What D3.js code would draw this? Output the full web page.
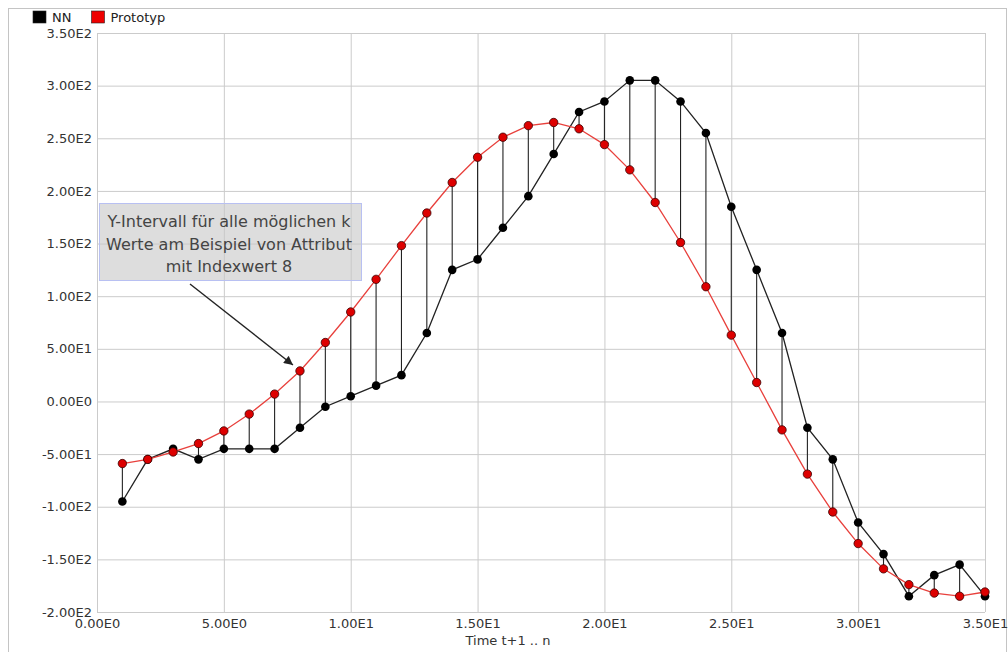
<!DOCTYPE html>
<html>
<head>
<meta charset="utf-8">
<script src="https://cdn.jsdelivr.net/npm/d3@7"></script>
<style>
  body { margin: 0; background: #fff; }
  text { font-family: "DejaVu Sans", sans-serif; }
</style>
</head>
<body>
<div id="chart-area"></div>
<script>
// values
var steps = [1, 2, 3, 4, 5, 6, 7, 8, 9, 10, 11, 12, 13, 14, 15, 16, 17, 18,
             19, 20, 21, 22, 23, 24, 25, 26, 27, 28, 29, 30, 31, 32, 33, 34, 35];
var nnValues = [-95, -55, -45, -55, -45, -45, -45, -25, -5, 5, 15, 25, 65, 125, 135, 165, 195, 235,
                275, 285, 305, 305, 285, 255, 185, 125, 65, -25, -55, -115, -145, -185, -165, -155, -185];
var protoValues = [-59, -55, -48, -40, -28, -12, 7, 29, 56, 85, 116, 148, 179, 208, 232, 251, 262, 265,
                   259, 244, 220, 189, 151, 109, 63, 18, -27, -69, -105, -135, -159, -174, -182, -185, -181];
var xTicks = [0, 5, 10, 15, 20, 25, 30, 35];
var yTicks = [-200, -150, -100, -50, 0, 50, 100, 150, 200, 250, 300, 350];
var seriesNames = ["NN", "Prototyp"];
var noteLines = ["Y-Intervall für alle möglichen k", "Werte am Beispiel von Attribut", "mit Indexwert 8"];
var noteStep = 8;

var margin = { left: 97, right: 23, top: 33, bottom: 40 };
var width = 1008 - margin.left - margin.right,
    height = 652 - margin.top - margin.bottom;

var svg = d3.select("#chart-area")
    .append("svg")
        .attr("width", 1008)
        .attr("height", 652);

// outer frame
svg.append("rect")
    .attr("x", 8.5).attr("y", 8.5)
    .attr("width", 998).attr("height", 660)
    .attr("fill", "none")
    .attr("stroke", "#c4c4c4");

var g = svg.append("g")
    .attr("transform", "translate(" + margin.left + ", " + margin.top + ")");

var x = d3.scaleLinear().domain([0, 35]).range([0, width]);
var y = d3.scaleLinear().domain([-200, 350]).range([height, 0]);

function sci(v) {
    if (v === 0) return "0.00E0";
    var e = Math.floor(Math.log10(Math.abs(v)));
    return (v / Math.pow(10, e)).toFixed(2) + "E" + e;
}

// grid
g.append("g")
    .attr("class", "x-grid")
    .attr("transform", "translate(0, " + height + ")")
    .call(d3.axisBottom(x).tickValues(xTicks).tickSize(-height).tickFormat(""));
g.append("g")
    .attr("class", "y-grid")
    .call(d3.axisLeft(y).tickValues(yTicks).tickSize(-width).tickFormat(""));
g.selectAll(".x-grid line, .y-grid line")
    .attr("stroke", "#cbcbcb")
    .attr("stroke-width", 1);
g.selectAll(".x-grid .domain, .y-grid .domain").remove();

// axes labels
var xAxis = g.append("g")
    .attr("transform", "translate(0, " + height + ")")
    .call(d3.axisBottom(x).tickValues(xTicks).tickSize(0).tickPadding(7).tickFormat(sci));
var yAxis = g.append("g")
    .call(d3.axisLeft(y).tickValues(yTicks).tickSize(0).tickPadding(5).tickFormat(sci));
xAxis.select(".domain").remove();
yAxis.select(".domain").remove();
svg.selectAll(".tick text")
    .attr("font-family", "DejaVu Sans")
    .attr("font-size", "13px")
    .attr("fill", "#333");

g.append("text")
    .attr("x", 411)
    .attr("y", height + 33)
    .attr("font-size", "13px")
    .attr("fill", "#333")
    .attr("text-anchor", "middle")
    .text("Time t+1 .. n");

// connectors between the two series
g.selectAll(".link")
    .data(steps)
    .enter()
    .append("line")
        .attr("class", "link")
        .attr("x1", function(d){ return x(d); })
        .attr("x2", function(d){ return x(d); })
        .attr("y1", function(d, i){ return y(protoValues[i]); })
        .attr("y2", function(d, i){ return y(nnValues[i]); })
        .attr("stroke", "#222")
        .attr("stroke-width", 1.1);

var line = d3.line()
    .x(function(d){ return x(d[0]); })
    .y(function(d){ return y(d[1]); });

var nnData = steps.map(function(d, i){ return [d, nnValues[i]]; });
var protoData = steps.map(function(d, i){ return [d, protoValues[i]]; });

g.append("path")
    .datum(nnData)
    .attr("d", line)
    .attr("fill", "none")
    .attr("stroke", "#222")
    .attr("stroke-width", 1.3);

g.append("path")
    .datum(protoData)
    .attr("d", line)
    .attr("fill", "none")
    .attr("stroke", "#e8403c")
    .attr("stroke-width", 1.3);

g.selectAll(".nn-dot")
    .data(nnData)
    .enter()
    .append("circle")
        .attr("class", "nn-dot")
        .attr("cx", function(d){ return x(d[0]); })
        .attr("cy", function(d){ return y(d[1]); })
        .attr("r", 4.3)
        .attr("fill", "#000");

g.selectAll(".proto-dot")
    .data(protoData)
    .enter()
    .append("circle")
        .attr("class", "proto-dot")
        .attr("cx", function(d){ return x(d[0]); })
        .attr("cy", function(d){ return y(d[1]); })
        .attr("r", 4.2)
        .attr("fill", "#dd0000")
        .attr("stroke", "#3a0000")
        .attr("stroke-width", 0.8);

// annotation
svg.append("rect")
    .attr("x", 99.5).attr("y", 203.5)
    .attr("width", 262).attr("height", 77)
    .attr("fill", "rgba(200,200,200,0.62)")
    .attr("stroke", "#b8c0f2");

svg.selectAll(".note")
    .data(noteLines)
    .enter()
    .append("text")
        .attr("class", "note")
        .attr("x", 229)
        .attr("y", function(d, i){ return 227 + i * 22.5; })
        .attr("text-anchor", "middle")
        .attr("font-family", "Liberation Sans")
        .attr("font-size", "16px")
        .attr("fill", "#444")
        .text(function(d){ return d; });

svg.append("defs").append("marker")
    .attr("id", "head")
    .attr("viewBox", "0 0 10 10")
    .attr("refX", 10).attr("refY", 5)
    .attr("markerWidth", 11).attr("markerHeight", 9)
    .attr("markerUnits", "userSpaceOnUse")
    .attr("orient", "auto")
    .append("path")
        .attr("d", "M0,0 L10,5 L0,10 z")
        .attr("fill", "#222");

var tipIndex = steps.indexOf(noteStep);
svg.append("line")
    .attr("x1", 190).attr("y1", 284)
    .attr("x2", margin.left + x(noteStep) - 7)
    .attr("y2", margin.top + y(protoValues[tipIndex]) - 6)
    .attr("stroke", "#222")
    .attr("stroke-width", 1.4)
    .attr("marker-end", "url(#head)");

// legend
var colors = ["#000", "#ee0000"];
var legend = svg.selectAll(".legend")
    .data(seriesNames)
    .enter()
    .append("g")
        .attr("class", "legend")
        .attr("transform", function(d, i){ return "translate(" + (33 + i * 58.5) + ", 11)"; });
legend.append("rect")
    .attr("width", 13).attr("height", 12)
    .attr("fill", function(d, i){ return colors[i]; })
    .attr("stroke", "#222")
    .attr("stroke-width", 0.6);
legend.append("text")
    .attr("x", 19).attr("y", 11)
    .attr("font-size", "13px")
    .attr("fill", "#222")
    .text(function(d){ return d; });
</script>
</body>
</html>
